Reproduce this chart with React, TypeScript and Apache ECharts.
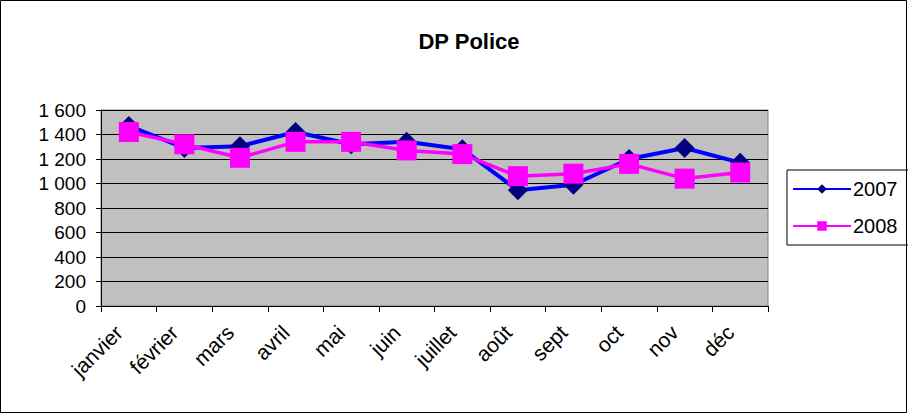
import React, { useEffect, useRef } from "react";
import * as echarts from "echarts";

const categories = ["janvier", "février", "mars", "avril", "mai", "juin", "juillet", "août", "sept", "oct", "nov", "déc"];
const values2007 = [1470, 1290, 1305, 1420, 1320, 1340, 1280, 945, 990, 1200, 1290, 1170];
const values2008 = [1420, 1320, 1210, 1340, 1340, 1270, 1240, 1060, 1080, 1160, 1040, 1090];
const yTicks = { min: 0, max: 1600, interval: 200 };

const fmt = (v: number) =>
  v >= 1000 ? `${Math.floor(v / 1000)} ${String(v % 1000).padStart(3, "0")}` : String(v);

export default function App() {
  const ref = useRef<HTMLDivElement>(null);
  useEffect(() => {
    if (!ref.current) return;
    const chart = echarts.init(ref.current, null, { renderer: "svg" });
    const font = "Arial, 'Liberation Sans', sans-serif";
    chart.setOption({
      animation: false,
      backgroundColor: "#ffffff",
      title: {
        text: "DP Police",
        left: 464,
        top: 25,
        textAlign: "center",
        textStyle: { fontFamily: font, fontSize: 22, fontWeight: "bold", color: "#000" },
      },
      graphic: [
        {
          type: "rect",
          shape: { x: 0.5, y: 0.5, width: 906, height: 412 },
          style: { fill: "none", stroke: "#000", lineWidth: 1 },
          silent: true,
        },
      ],
      legend: {
        orient: "vertical",
        left: 787,
        top: 170,
        data: ["2007", "2008"],
        borderColor: "#000",
        borderWidth: 1,
        padding: [9, 30, 9, 5],
        itemWidth: 58,
        itemHeight: 12,
        itemGap: 17,
        textStyle: { fontFamily: font, fontSize: 20, color: "#000", padding: [0, 0, 0, -3] },
      },
      grid: {
        left: 101,
        right: 140,
        top: 110,
        bottom: 108,
        show: true,
        backgroundColor: "#C0C0C0",
        borderColor: "#808080",
        borderWidth: 1,
      },
      xAxis: {
        type: "category",
        data: categories,
        boundaryGap: true,
        axisLine: { lineStyle: { color: "#000", width: 1 } },
        axisTick: { show: true, length: 6, inside: false, lineStyle: { color: "#000" } },
        axisLabel: {
          rotate: 45,
          fontFamily: font,
          fontSize: 21,
          color: "#000",
          margin: 13,
          padding: [0, 14, 0, 0],
          interval: 0,
        },
        splitLine: { show: false },
      },
      yAxis: {
        type: "value",
        min: yTicks.min,
        max: yTicks.max,
        interval: yTicks.interval,
        axisLine: { show: true, lineStyle: { color: "#000", width: 1 } },
        axisTick: { show: true, length: 5, lineStyle: { color: "#000" } },
        axisLabel: {
          fontFamily: font,
          fontSize: 19,
          color: "#000",
          margin: 15,
          formatter: (v: number) => fmt(v),
        },
        splitLine: { show: true, lineStyle: { color: "#000", width: 1 } },
      },
      series: [
        {
          name: "2007",
          type: "line",
          data: values2007,
          symbol: "diamond",
          symbolSize: 20,
          lineStyle: { color: "#0000FF", width: 4 },
          itemStyle: { color: "#000080", borderWidth: 0 },
          z: 2,
        },
        {
          name: "2008",
          type: "line",
          data: values2008,
          symbol: "rect",
          symbolSize: 20,
          lineStyle: { color: "#FF00FF", width: 3.5 },
          itemStyle: { color: "#FF00FF", borderWidth: 0 },
          z: 3,
        },
      ],
    });
    return () => chart.dispose();
  }, []);
  return (
    <div
      ref={ref}
      style={{ position: "absolute", left: 0, top: 0, width: 908, height: 414 }}
    />
  );
}
